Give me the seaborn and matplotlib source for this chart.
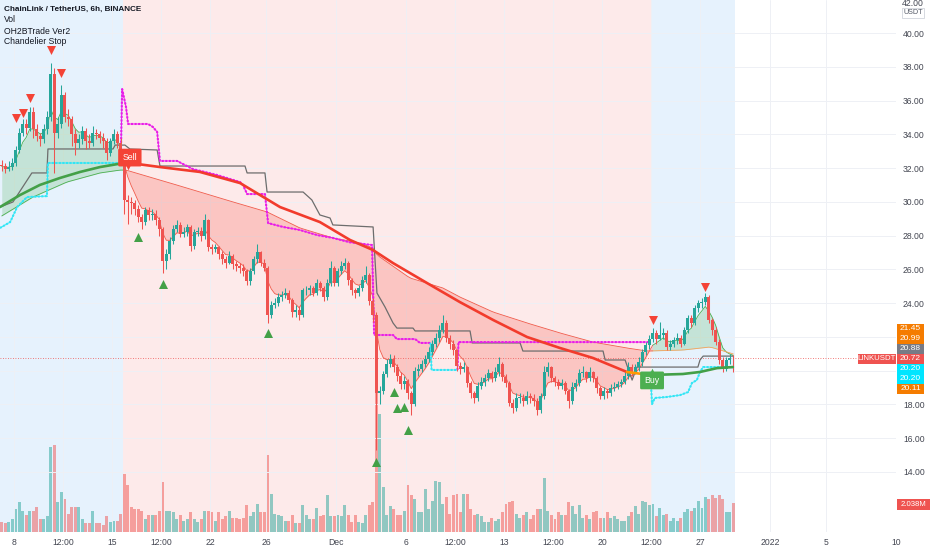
import numpy as np
import pandas as pd
import seaborn as sns
import matplotlib
matplotlib.use("Agg")
import matplotlib.pyplot as plt
import matplotlib.dates as mdates
from matplotlib.patches import Rectangle

# ---- LINK/USDT 6h candles, Nov 7 2021 00:00 onwards ----
first_open = 32.2
close = [
    32.1, 31.95, 32.05, 32.3, 33.06, 34.1, 34.6, 34.4, 35.3, 34.3,
    33.9, 33.7, 34.3, 35.0, 37.6, 34.1, 34.6, 36.3, 35.0, 34.9,
    34.0, 33.5, 33.7, 34.2, 33.6, 33.5, 34.1, 34.0, 33.8, 33.6,
    32.9, 33.6, 34.0, 33.5, 32.6, 30.1, 30.0, 29.9, 29.6, 29.1,
    28.8, 29.5, 29.2, 29.3, 28.9, 28.4, 26.5, 26.9, 27.7, 28.4,
    28.6, 28.1, 28.2, 28.5, 27.4, 28.2, 28.3, 28.0, 28.9, 27.3,
    27.2, 27.3, 26.9, 26.6, 26.4, 26.8, 26.3, 26.2, 26.1, 25.9,
    25.3, 25.9, 26.6, 27.0, 26.4, 26.1, 23.3, 23.9, 24.0, 24.35,
    24.45, 24.6, 24.2, 23.45, 23.6, 23.3, 24.75, 24.75, 24.9, 24.6,
    25.2, 24.9, 24.35, 25.2, 26.1, 25.2, 25.9, 26.2, 26.35, 25.35,
    24.75, 24.6, 24.9, 25.35, 25.65, 24.15, 23.3, 18.65, 18.8, 19.8,
    20.4, 20.7, 20.2, 19.7, 19.2, 19.4, 18.65, 18.05, 20.0, 20.1,
    20.4, 20.7, 21.1, 21.6, 21.95, 22.4, 22.85, 21.95, 21.6, 21.2,
    20.3, 20.1, 20.2, 19.25, 18.65, 18.4, 19.1, 19.3, 19.55, 19.85,
    19.55, 19.9, 20.4, 19.6, 19.25, 18.1, 17.8, 18.4, 18.4, 18.2,
    18.5, 18.35, 18.2, 17.65, 18.5, 19.9, 20.2, 19.55, 19.3, 19.1,
    19.25, 18.8, 18.2, 19.0, 19.25, 19.85, 19.9, 19.55, 19.9, 19.55,
    18.95, 18.5, 18.8, 18.65, 18.95, 19.05, 19.2, 19.3, 19.7, 20.2,
    19.9, 20.2, 20.5, 21.1, 21.5, 21.9, 22.2, 21.9, 22.1, 22.25,
    21.4, 21.6, 21.8, 21.95, 21.6, 22.4, 23.1, 22.85, 23.7, 24.0,
    24.05, 24.35, 22.98, 22.4, 21.7, 20.6, 20.1, 20.6, 20.75, 20.72]
high = [
    32.5, 32.3, 32.4, 32.6, 33.3, 34.4, 34.9, 34.9, 35.6, 35.6,
    34.6, 34.1, 34.6, 35.4, 38.2, 37.9, 35.0, 36.9, 36.5, 35.5,
    35.1, 34.3, 34.0, 34.5, 34.4, 34.0, 34.5, 34.3, 34.2, 34.1,
    33.8, 33.8, 34.3, 34.2, 33.8, 32.7, 30.4, 30.3, 30.1, 29.8,
    29.3, 29.7, 29.7, 29.6, 29.5, 29.1, 28.5, 27.2, 27.9, 28.6,
    28.9, 28.8, 28.5, 28.7, 28.6, 28.4, 28.5, 28.5, 29.3, 29.0,
    27.5, 27.5, 27.4, 27.1, 26.8, 27.1, 26.9, 26.5, 26.4, 26.3,
    26.0, 26.1, 26.8, 27.5, 27.1, 26.6, 26.2, 24.1, 24.3, 24.6,
    24.7, 24.9, 24.8, 24.3, 23.9, 23.8, 24.9, 25.0, 25.1, 25.0,
    25.4, 25.3, 25.0, 25.4, 26.5, 26.2, 26.1, 26.5, 26.7, 26.5,
    25.5, 24.9, 25.1, 25.6, 26.2, 25.8, 24.3, 23.5, 19.1, 20.0,
    20.7, 21.0, 20.9, 20.4, 19.9, 19.7, 19.5, 18.8, 20.2, 20.4,
    20.6, 20.9, 21.4, 21.8, 22.2, 22.7, 23.3, 23.0, 22.1, 21.8,
    21.3, 20.5, 20.5, 20.3, 19.4, 18.8, 19.3, 19.6, 19.8, 20.1,
    20.0, 20.2, 20.8, 20.5, 19.8, 19.4, 18.3, 18.7, 18.7, 18.6,
    18.8, 18.7, 18.6, 18.4, 18.7, 20.3, 20.5, 20.3, 19.7, 19.5,
    19.5, 19.4, 18.9, 19.3, 19.5, 20.1, 20.3, 20.0, 20.2, 20.0,
    19.7, 19.1, 19.0, 18.9, 19.2, 19.3, 19.4, 19.5, 19.9, 20.5,
    20.4, 20.4, 20.8, 21.3, 21.7, 22.1, 22.5, 22.4, 22.9, 22.5,
    22.4, 21.8, 22.0, 22.2, 22.1, 22.6, 23.3, 23.3, 23.9, 24.2,
    24.3, 24.6, 24.5, 23.1, 22.6, 21.9, 20.8, 20.8, 21.0, 20.9]
low = [
    31.8, 31.7, 31.8, 31.9, 32.1, 32.9, 33.9, 34.0, 34.2, 33.8,
    33.6, 33.3, 33.5, 34.0, 34.8, 31.7, 33.8, 34.4, 34.7, 34.5,
    33.3, 32.8, 33.2, 33.4, 33.1, 33.2, 33.3, 33.7, 33.5, 33.2,
    32.5, 32.7, 33.4, 33.2, 32.3, 29.3, 28.7, 29.3, 29.2, 28.8,
    28.4, 28.6, 28.9, 28.9, 28.6, 28.0, 25.8, 26.0, 26.6, 27.5,
    28.2, 27.9, 27.9, 28.0, 27.1, 27.2, 28.0, 27.7, 27.8, 27.1,
    26.9, 27.0, 26.6, 26.3, 26.1, 26.3, 26.0, 25.9, 25.8, 25.6,
    25.1, 25.1, 25.7, 26.4, 26.2, 25.9, 22.8, 23.1, 23.7, 23.8,
    24.1, 24.3, 24.0, 23.2, 23.2, 23.0, 23.2, 24.5, 24.5, 24.4,
    24.5, 24.7, 24.1, 24.2, 25.0, 25.0, 25.0, 25.7, 26.0, 25.1,
    24.5, 24.3, 24.4, 24.7, 25.2, 23.9, 22.9, 15.3, 18.0, 18.6,
    19.6, 20.2, 19.9, 19.4, 18.9, 18.9, 18.3, 17.4, 17.9, 19.7,
    19.9, 20.2, 20.5, 20.9, 21.4, 21.7, 22.2, 21.7, 21.3, 20.9,
    20.0, 19.8, 19.9, 19.0, 18.4, 18.1, 18.2, 18.9, 19.1, 19.4,
    19.3, 19.4, 19.7, 19.4, 19.0, 17.9, 17.5, 17.6, 18.1, 17.9,
    18.0, 18.1, 17.9, 17.4, 17.5, 18.3, 19.7, 19.3, 19.1, 18.9,
    18.9, 18.6, 17.8, 18.0, 18.8, 19.1, 19.6, 19.3, 19.4, 19.3,
    18.7, 18.3, 18.3, 18.4, 18.5, 18.8, 18.9, 19.0, 19.2, 19.5,
    19.7, 19.8, 20.0, 20.3, 20.9, 21.3, 21.7, 21.6, 21.8, 21.9,
    21.2, 21.2, 21.4, 21.6, 21.4, 21.5, 22.2, 22.6, 22.7, 23.5,
    23.7, 23.9, 22.8, 22.1, 21.5, 20.4, 19.9, 20.0, 20.4, 19.9]
volume_m = [
    0.7, 0.6, 0.7, 0.9, 1.6, 2.1, 1.5, 1.2, 1.5, 1.5,
    1.75, 0.9, 0.9, 1.1, 6.0, 6.1, 2.1, 2.8, 2.3, 1.3,
    1.75, 1.75, 1.75, 0.9, 0.6, 0.6, 1.5, 0.6, 0.6, 0.5,
    1.1, 0.7, 0.8, 0.8, 1.3, 4.1, 3.3, 1.75, 1.6, 1.6,
    1.5, 0.9, 1.2, 1.2, 1.2, 1.5, 3.5, 1.5, 1.5, 1.4,
    0.9, 1.2, 0.8, 0.9, 1.4, 0.9, 0.7, 0.9, 1.5, 1.5,
    1.4, 0.8, 1.4, 0.9, 1.1, 1.5, 1.0, 1.0, 0.9, 1.0,
    1.9, 1.1, 1.4, 2.0, 1.4, 1.4, 5.4, 2.7, 1.3, 1.2,
    1.1, 0.8, 0.8, 1.2, 0.6, 0.6, 1.9, 1.2, 0.9, 0.9,
    1.7, 1.1, 1.2, 2.6, 1.1, 1.1, 1.2, 1.1, 1.9, 1.2,
    0.7, 1.2, 0.7, 0.6, 1.2, 1.9, 2.1, 9.9, 8.3, 3.2,
    1.2, 1.8, 1.6, 1.2, 1.2, 1.5, 3.3, 2.6, 2.3, 1.4,
    1.4, 3.0, 1.6, 2.2, 3.6, 3.5, 2.0, 2.5, 1.3, 2.6,
    2.7, 1.4, 2.7, 2.7, 1.6, 1.2, 1.3, 1.1, 0.7, 0.7,
    1.0, 0.8, 0.9, 1.4, 2.0, 2.1, 2.2, 1.3, 1.0, 1.2,
    1.4, 0.9, 1.2, 1.6, 1.6, 3.8, 1.5, 1.2, 0.9, 1.4,
    1.2, 1.2, 2.1, 1.8, 1.3, 1.9, 1.0, 1.2, 0.9, 1.4,
    1.5, 1.0, 1.0, 1.4, 1.0, 1.1, 0.9, 0.8, 0.8, 1.1,
    1.4, 1.8, 1.3, 2.2, 2.1, 1.9, 2.0, 1.1, 1.7, 1.2,
    1.3, 0.8, 1.0, 0.8, 1.0, 1.4, 1.6, 1.5, 1.7, 2.2,
    1.7, 2.5, 2.3, 2.6, 2.4, 2.6, 2.3, 1.4, 1.4, 2.038]

# ---- indicator lines, vertices as (candle index, price) ----
ma_idx = [-0.5, 5.2, 10.9, 16.6, 22.4, 28.1, 33.2, 36.6, 45.2, 56.6, 68.1, 79.5, 90.9,
          99.5, 106.1, 111.8, 121.5, 130.9, 140.4, 150.1, 159.5, 168.9, 178.6, 185.2,
          194.6, 199.5, 204.4, 208.9]
ma_price = [29.69, 30.40, 31.00, 31.41, 31.77, 32.06, 32.24, 32.30, 32.06, 31.77, 31.11,
            29.69, 28.80, 27.74, 27.14, 26.37, 25.19, 24.06, 23.00, 21.99, 21.34, 20.75,
            19.92, 19.74, 19.80, 19.92, 20.15, 20.21]
band_idx = [-0.5, 8.9, 18.6, 28.1, 33.8, 35.5, 47.2, 56.6, 66.1, 75.8, 85.2, 94.6, 102.4,
            106.1, 107.2, 116.6, 126.1, 130.9, 140.4, 150.1, 159.5, 168.9, 178.6, 184.4,
            194.6, 202.4, 209.0]
band_price = [29.10, 30.28, 31.17, 31.71, 31.88, 31.88, 31.17, 30.58, 29.99, 29.40, 28.45,
              27.86, 27.56, 27.26, 26.85, 25.49, 24.89, 24.36, 23.47, 22.82, 22.23, 21.69,
              21.34, 21.16, 21.22, 21.40, 20.99]
gray_idx = [-0.5, 3.2, 8.6, 12.9, 13.2, 31.8, 32.4, 35.2, 36.6, 44.4, 45.2, 69.5, 70.1,
            75.2, 75.8, 86.1, 88.6, 90.9, 93.8, 94.6, 106.1, 107.2, 109.5, 111.8, 112.9,
            117.5, 118.1, 133.8, 134.4, 148.1, 148.9, 171.8, 172.4, 178.1, 180.1, 181.5,
            198.9, 199.5, 200.4, 208.9]
gray_price = [29.69, 29.99, 31.71, 31.71, 33.13, 33.13, 33.36, 33.36, 33.13, 33.07, 32.12,
              32.12, 31.71, 31.71, 30.58, 30.58, 30.11, 29.22, 29.04, 28.63, 28.51, 24.60,
              23.77, 22.82, 22.52, 22.52, 22.35, 22.35, 21.64, 21.64, 21.16, 21.16, 20.63,
              20.63, 19.44, 20.21, 20.21, 20.63, 20.86, 20.86]
short_stop = [
    ([34.1, 34.4, 35.5, 36.1, 41.8, 43.2, 44.4, 45.2, 50.1, 54.6, 61.5, 68.1, 68.9, 70.1,
      75.2, 76.1, 80.4, 85.2, 90.1, 94.6, 99.5, 105.8, 106.4, 111.8, 112.9, 118.1, 119.5,
      122.4],
     [33.50, 36.68, 35.62, 34.61, 34.61, 34.43, 34.14, 32.42, 32.42, 31.94, 31.59, 31.17,
      31.00, 30.46, 30.46, 28.74, 28.51, 28.33, 28.03, 27.86, 27.60, 27.44, 22.11, 22.11,
      21.87, 21.87, 21.64, 21.64]),
    ([130.2, 130.5, 185.2], [20.04, 21.69, 21.69]),
]
long_stop = [
    ([-0.5, 2.4, 4.4, 7.2, 12.9, 13.2, 34.4], [28.45, 28.80, 29.69, 30.28, 30.34, 32.30, 32.30]),
    ([122.5, 122.8, 130.1], [21.64, 20.04, 20.04]),
    ([185.3, 185.8, 186.6, 190.1, 193.8, 196.1, 197.2, 198.6, 199.5, 200.4, 208.9],
     [19.92, 18.02, 18.38, 18.44, 18.55, 18.73, 19.27, 19.44, 19.92, 20.21, 20.21]),
]
sell_idx, buy_idx = 35, 186
top_marks_idx = [4, 6, 8, 14, 17, 186, 201]
top_marks_price = [34.96, 35.25, 36.14, 38.99, 37.63, 22.98, 24.93]
bottom_marks_idx = [39, 46, 76, 107, 112, 113, 115, 116]
bottom_marks_price = [27.90, 25.11, 22.20, 14.56, 18.71, 17.76, 17.82, 16.51]

tick_dates = ["2021-11-08", "2021-11-11 12:00", "2021-11-15", "2021-11-18 12:00", "2021-11-22",
              "2021-11-26", "2021-12-01", "2021-12-06", "2021-12-09 12:00", "2021-12-13",
              "2021-12-16 12:00", "2021-12-20", "2021-12-23 12:00", "2021-12-27", "2022-01-01",
              "2022-01-05", "2022-01-10"]
tick_labels = ["8", "12:00", "15", "12:00", "22", "26", "Dec", "6", "12:00", "13", "12:00",
               "20", "12:00", "27", "2022", "5", "10"]
price_ticks = list(range(14, 42, 2))
hidden_ticks = [20, 22]  # covered by the last-value tags
last_values = ["21.45", "20.99", "20.88", "20.72", "20.20", "20.20", "20.11"]
last_colors = ["#f57c00", "#f57c00", "#787b86", "#ef5350", "#00e5ff", "#00e5ff", "#f57c00"]
last_price = 20.72

GREEN, RED = "#26a69a", "#ef5350"
MA_GREEN, MA_RED, ORANGE = "#43a047", "#f23b2c", "#ff9800"
MAGENTA, CYAN, GRAY = "#e91ee8", "#32e6f5", "#6d6d6d"

sns.set_theme(style="white")
plt.rcParams["font.family"] = ["Liberation Sans", "DejaVu Sans"]

c = np.array(close)
h = np.array(high)
l = np.array(low)
o = np.r_[first_open, c[:-1]]
n = len(c)
up = c >= o
t0 = mdates.date2num(pd.Timestamp("2021-11-07"))


def ix(i):
    return t0 + np.asarray(i, float) * 0.25 + 0.125


xc = ix(np.arange(n))

W, H = 932, 550
fig = plt.figure(figsize=(9.32, 5.5), dpi=100)
rect = [0, 18 / H, 896 / W, 532 / H]
axv = fig.add_axes(rect)
ax = fig.add_axes(rect, sharex=axv)
ax.patch.set_alpha(0)

# trend background
axv.axvspan(ix(-0.5), ix(sell_idx - 0.5), color="#e6f2fd", lw=0)
axv.axvspan(ix(sell_idx - 0.5), ix(buy_idx - 0.5), color="#fdeaea", lw=0)
axv.axvspan(ix(buy_idx - 0.5), ix(n - 0.5), color="#e6f2fd", lw=0)

# volume
axv.bar(xc, volume_m, width=0.19, color=np.where(up, GREEN, RED), alpha=0.5, lw=0)
axv.set_ylim(0, 532 / 14.2)
axv.set_yticks([])
axv.tick_params(axis="x", bottom=False, labelbottom=False)
for s in axv.spines.values():
    s.set_visible(False)

# grid
for p in price_ticks:
    ax.axhline(p, color="#eef0f5", lw=0.7, zorder=0.5)
for d in tick_dates:
    ax.axvline(mdates.date2num(pd.Timestamp(d)), color="#eef0f5", lw=0.7, zorder=0.5)

# cloud between fast line and slow band
band_c = np.interp(np.arange(n), band_idx, band_price)
fast = pd.Series(c).ewm(span=5, adjust=False).mean().to_numpy()
s0 = slice(0, sell_idx + 1)
s1 = slice(sell_idx, buy_idx + 1)
s2 = slice(buy_idx, n)
ax.fill_between(xc[s0], fast[s0], band_c[s0], color="#4caf50", alpha=0.22, lw=0, zorder=1)
ax.fill_between(xc[s1], band_c[s1], fast[s1], color="#f44336", alpha=0.22, lw=0, zorder=1)
ax.fill_between(xc[s2], fast[s2], band_c[s2], where=fast[s2] >= band_c[s2], interpolate=True,
                color="#4caf50", alpha=0.22, lw=0, zorder=1)
ax.fill_between(xc[s2], fast[s2], band_c[s2], where=fast[s2] < band_c[s2], interpolate=True,
                color=ORANGE, alpha=0.22, lw=0, zorder=1)
ax.plot(xc[s0], fast[s0], color="#4caf50", lw=0.6, zorder=2)
ax.plot(xc[s1], fast[s1], color="#f05a4a", lw=0.6, zorder=2)
ax.plot(xc[s2], fast[s2], color="#4caf50", lw=0.6, zorder=2)
ax.plot(xc[s0], band_c[s0], color="#4caf50", lw=0.6, zorder=2)
ax.plot(xc[s1], band_c[s1], color="#f05a4a", lw=0.6, zorder=2)
ax.plot(xc[s2], band_c[s2], color="#f5a25a", lw=0.6, zorder=2)

# chandelier stops
sns.lineplot(x=ix(gray_idx), y=gray_price, sort=False, estimator=None, color=GRAY,
             lw=0.9, ax=ax, zorder=3)
for xs, ys in short_stop:
    ax.plot(ix(xs), ys, color=MAGENTA, lw=0.7, zorder=3)
    ax.plot(ix(xs), ys, color=MAGENTA, lw=1.5, ls=(0, (1.0, 0.7)), zorder=3)
for xs, ys in long_stop:
    ax.plot(ix(xs), ys, color=CYAN, lw=0.7, zorder=3)
    ax.plot(ix(xs), ys, color=CYAN, lw=1.5, ls=(0, (1.0, 0.7)), zorder=3)

# candles
cols = np.where(up, GREEN, RED)
ax.vlines(xc, l, h, colors=cols, lw=0.75, zorder=4)
ax.bar(xc, np.maximum(np.abs(c - o), 0.04), bottom=np.minimum(o, c), width=0.19,
       color=cols, lw=0, zorder=5)

# trend baseline
mi = np.array(ma_idx)
mp = np.array(ma_price)
for a, b, col in [(-1, 36.6, MA_GREEN), (36.6, 178.6, MA_RED), (178.6, 185.2, ORANGE),
                  (185.2, 210, MA_GREEN)]:
    m = (mi >= a) & (mi <= b)
    sns.lineplot(x=ix(mi[m]), y=mp[m], sort=False, estimator=None, color=col, lw=1.9,
                 ax=ax, zorder=6)

# signal markers
ax.scatter(ix(top_marks_idx), top_marks_price, marker="v", s=42, color="#f44336", lw=0, zorder=7)
ax.scatter(ix(bottom_marks_idx), bottom_marks_price, marker="^", s=42, color="#43a047", lw=0,
           zorder=7)

ax.text(ix(36.6), 32.62, "Sell", ha="center", va="center", fontsize=6.3, color="white",
        zorder=9, bbox=dict(boxstyle="round,pad=0.5,rounding_size=0.15", fc="#f44336", ec="none"))
ax.scatter(ix(36.0), 32.08, marker="v", s=16, color="#f44336", lw=0, zorder=9)
ax.text(ix(185.8), 19.42, "Buy", ha="center", va="center", fontsize=6.3, color="white",
        zorder=9, bbox=dict(boxstyle="round,pad=0.5,rounding_size=0.15", fc="#4caf50", ec="none"))
ax.scatter(ix(185.8), 20.0, marker="^", s=16, color="#4caf50", lw=0, zorder=9)

ax.axhline(last_price, color=RED, lw=0.6, ls=(0, (1, 2)), zorder=2)

# axes
ax.set_xlim(t0, t0 + 64)
ax.set_ylim(10.44, 41.955)
ax.yaxis.tick_right()
ax.set_yticks(price_ticks)
ax.set_yticklabels(["" if v in hidden_ticks else f"{v:.2f}" for v in price_ticks])
ax.set_xticks([mdates.date2num(pd.Timestamp(d)) for d in tick_dates])
ax.set_xticklabels(tick_labels)
ax.tick_params(axis="y", length=0, pad=5, labelsize=6.2, labelcolor="#434651")
ax.tick_params(axis="x", length=0, pad=4, labelsize=6.2, labelcolor="#434651")
ax.grid(False)
for s in ax.spines.values():
    s.set_visible(False)

# header
fig.text(4 / W, 1 - 9 / H, "ChainLink / TetherUS, 6h, BINANCE", fontsize=5.9,
         weight="bold", color="#131722", va="center")
for k, name in enumerate(["Vol", "OH2BTrade Ver2", "Chandelier Stop"]):
    fig.text(4 / W, 1 - (20 + 11 * k) / H, name, fontsize=6.2, color="#131722", va="center")


def tag(xl, yc, w, txt, col, fs=6.0, hgt=10):
    fig.add_artist(Rectangle((xl / W, 1 - (yc + hgt / 2) / H), w / W, hgt / H,
                             transform=fig.transFigure, fc=col, ec="none", zorder=10))
    fig.text((xl + w / 2) / W, 1 - yc / H, txt, fontsize=fs, color="white", ha="center",
             va="center", zorder=11)


# right side price tags
fig.text(913 / W, 1 - 3 / H, "42.00", fontsize=6.2, color="#434651", ha="center", va="center")
fig.text(913 / W, 1 - 13 / H, "USDT", fontsize=5.2, color="#555a66", ha="center", va="center",
         bbox=dict(boxstyle="square,pad=0.2", fc="white", ec="#d1d4dc", lw=0.6))
for k, (txt, col) in enumerate(zip(last_values, last_colors)):
    tag(897, 329 + 10 * k, 27, txt, col)
tag(858, 359, 38, "LINKUSDT", RED, fs=5.6)
tag(897, 504, 33, f"{volume_m[-1]:.3f}M", RED, fs=5.6, hgt=11)

fig.savefig("out.png", dpi=100)
